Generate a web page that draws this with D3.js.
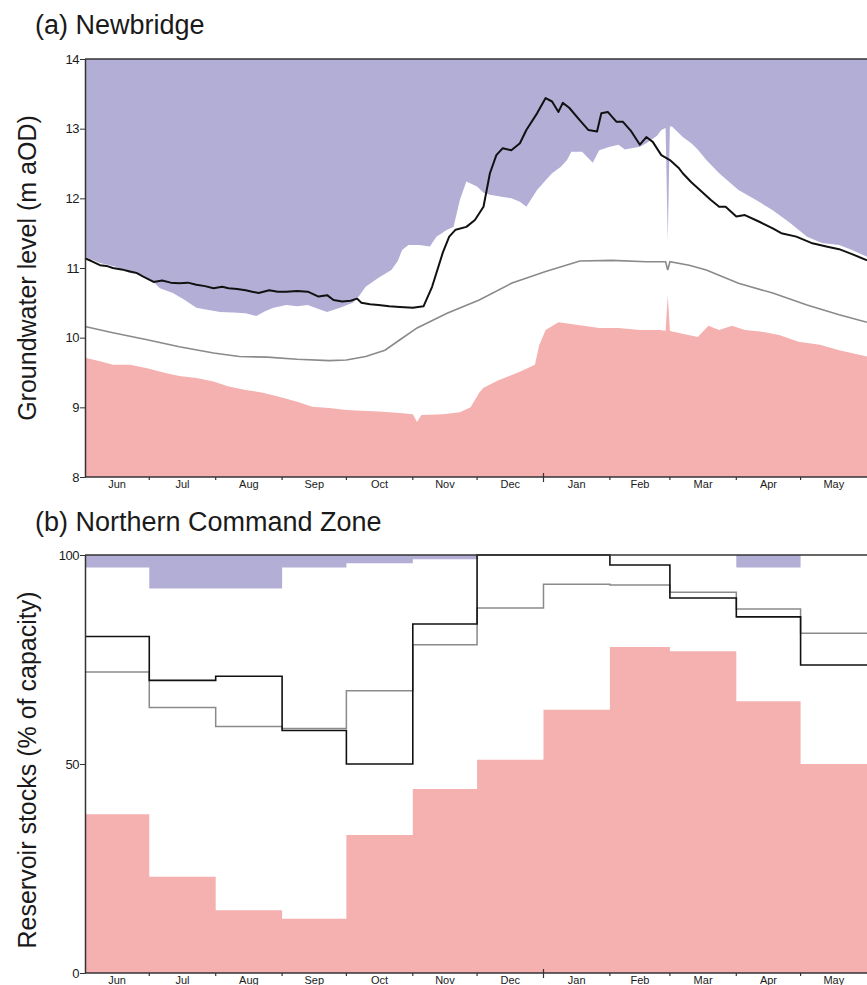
<!DOCTYPE html>
<html>
<head>
<meta charset="utf-8">
<script src="https://cdn.jsdelivr.net/npm/d3@7"></script>
<style>
  body { margin: 0; background: #fff; }
  svg { display: block; }
  text { font-family: "Liberation Sans", Arial, Helvetica, sans-serif; fill: #1a1a1a; }
</style>
</head>
<body>
<svg id="chart" width="867" height="985"></svg>
<script>
// Hydrological year shown on both panels
const seasonStart = "2010-06-01";
const seasonEnd = "2011-06-01";
const monthLabels = ["Jun", "Jul", "Aug", "Sep", "Oct", "Nov", "Dec", "Jan", "Feb", "Mar", "Apr", "May"];

// (a) Newbridge groundwater level, m aOD
const levelTicks = [8, 9, 10, 11, 12, 13, 14];

const historicMax = [
  ["2010-06-01", 11.16], ["2010-06-08", 11.07], ["2010-06-15", 11.02], ["2010-06-22", 10.93],
  ["2010-06-28", 10.90], ["2010-07-03", 10.80], ["2010-07-06", 10.71], ["2010-07-12", 10.64],
  ["2010-07-17", 10.55], ["2010-07-23", 10.43], ["2010-07-28", 10.40], ["2010-08-03", 10.37],
  ["2010-08-09", 10.36], ["2010-08-15", 10.35], ["2010-08-20", 10.31], ["2010-08-24", 10.38],
  ["2010-08-28", 10.43], ["2010-09-03", 10.47], ["2010-09-08", 10.45], ["2010-09-13", 10.47],
  ["2010-09-18", 10.41], ["2010-09-22", 10.37], ["2010-09-28", 10.43], ["2010-10-04", 10.50],
  ["2010-10-07", 10.60], ["2010-10-10", 10.73], ["2010-10-16", 10.86], ["2010-10-22", 10.97],
  ["2010-10-25", 11.10], ["2010-10-27", 11.26], ["2010-10-30", 11.33], ["2010-11-04", 11.33],
  ["2010-11-09", 11.31], ["2010-11-12", 11.45], ["2010-11-17", 11.55], ["2010-11-20", 11.59],
  ["2010-11-23", 11.98], ["2010-11-26", 12.24], ["2010-12-01", 12.17], ["2010-12-04", 12.08],
  ["2010-12-07", 12.05], ["2010-12-13", 12.02], ["2010-12-17", 12.00], ["2010-12-21", 11.95],
  ["2010-12-24", 11.88], ["2010-12-29", 12.12], ["2011-01-02", 12.26], ["2011-01-05", 12.36],
  ["2011-01-09", 12.45], ["2011-01-12", 12.55], ["2011-01-14", 12.67], ["2011-01-19", 12.67],
  ["2011-01-24", 12.51], ["2011-01-27", 12.69], ["2011-02-01", 12.74], ["2011-02-05", 12.77],
  ["2011-02-08", 12.70], ["2011-02-11", 12.72], ["2011-02-15", 12.74], ["2011-02-18", 12.79],
  ["2011-02-23", 12.90], ["2011-02-25", 12.98], ["2011-02-27", 13.01], ["2011-02-28", 11.40],
  ["2011-03-01", 13.03], ["2011-03-02", 13.03], ["2011-03-07", 12.88], ["2011-03-11", 12.79],
  ["2011-03-14", 12.70], ["2011-03-18", 12.55], ["2011-03-24", 12.36], ["2011-04-02", 12.12],
  ["2011-04-10", 11.98], ["2011-04-18", 11.83], ["2011-04-26", 11.65], ["2011-05-04", 11.45],
  ["2011-05-11", 11.36], ["2011-05-19", 11.33], ["2011-05-25", 11.26], ["2011-06-01", 11.16]
];

const historicMin = [
  ["2010-06-01", 9.71], ["2010-06-08", 9.66], ["2010-06-14", 9.61], ["2010-06-22", 9.61],
  ["2010-06-30", 9.56], ["2010-07-09", 9.49], ["2010-07-15", 9.45], ["2010-07-23", 9.42],
  ["2010-07-31", 9.37], ["2010-08-07", 9.30], ["2010-08-15", 9.25], ["2010-08-23", 9.21],
  ["2010-08-31", 9.15], ["2010-09-08", 9.08], ["2010-09-15", 9.01], ["2010-09-23", 8.99],
  ["2010-10-01", 8.96], ["2010-10-08", 8.95], ["2010-10-16", 8.94], ["2010-10-26", 8.92],
  ["2010-11-01", 8.90], ["2010-11-03", 8.79], ["2010-11-05", 8.89], ["2010-11-15", 8.90],
  ["2010-11-23", 8.93], ["2010-11-28", 9.00], ["2010-12-02", 9.21], ["2010-12-04", 9.28],
  ["2010-12-11", 9.39], ["2010-12-21", 9.51], ["2010-12-28", 9.61], ["2010-12-30", 9.89],
  ["2011-01-02", 10.11], ["2011-01-08", 10.22], ["2011-01-18", 10.18], ["2011-01-27", 10.14],
  ["2011-02-05", 10.14], ["2011-02-15", 10.11], ["2011-02-24", 10.11], ["2011-02-27", 10.10],
  ["2011-02-28", 10.61], ["2011-03-01", 10.10], ["2011-03-02", 10.09], ["2011-03-14", 10.01],
  ["2011-03-19", 10.17], ["2011-03-24", 10.11], ["2011-03-30", 10.17], ["2011-04-05", 10.11],
  ["2011-04-12", 10.09], ["2011-04-21", 10.04], ["2011-04-30", 9.94], ["2011-05-10", 9.90],
  ["2011-05-19", 9.82], ["2011-06-01", 9.73]
];

const longTermMean = [
  ["2010-06-01", 10.16], ["2010-06-14", 10.07], ["2010-06-30", 9.97], ["2010-07-15", 9.87],
  ["2010-07-31", 9.78], ["2010-08-12", 9.73], ["2010-08-25", 9.72], ["2010-09-08", 9.69],
  ["2010-09-23", 9.67], ["2010-10-01", 9.68], ["2010-10-10", 9.73], ["2010-10-19", 9.82],
  ["2010-10-26", 9.97], ["2010-11-03", 10.14], ["2010-11-17", 10.35], ["2010-12-02", 10.54],
  ["2010-12-17", 10.78], ["2011-01-02", 10.95], ["2011-01-18", 11.10], ["2011-02-02", 11.11],
  ["2011-02-18", 11.09], ["2011-02-27", 11.09], ["2011-02-28", 10.97], ["2011-03-01", 11.09],
  ["2011-03-10", 11.04], ["2011-03-18", 10.97], ["2011-04-02", 10.78], ["2011-04-18", 10.64],
  ["2011-05-04", 10.47], ["2011-05-19", 10.33], ["2011-06-01", 10.22]
];

const currentLevel = [
  ["2010-06-01", 11.14], ["2010-06-04", 11.10], ["2010-06-08", 11.04], ["2010-06-11", 11.03],
  ["2010-06-14", 11.00], ["2010-06-18", 10.98], ["2010-06-22", 10.95], ["2010-06-25", 10.93],
  ["2010-06-28", 10.88], ["2010-07-03", 10.80], ["2010-07-07", 10.82], ["2010-07-11", 10.79],
  ["2010-07-15", 10.78], ["2010-07-19", 10.79], ["2010-07-23", 10.76], ["2010-07-27", 10.74],
  ["2010-07-31", 10.71], ["2010-08-04", 10.73], ["2010-08-07", 10.71], ["2010-08-11", 10.70],
  ["2010-08-15", 10.68], ["2010-08-18", 10.66], ["2010-08-21", 10.64], ["2010-08-26", 10.68],
  ["2010-08-30", 10.66], ["2010-09-03", 10.66], ["2010-09-08", 10.67], ["2010-09-13", 10.66],
  ["2010-09-18", 10.59], ["2010-09-22", 10.61], ["2010-09-25", 10.54], ["2010-09-29", 10.52],
  ["2010-10-03", 10.53], ["2010-10-06", 10.56], ["2010-10-08", 10.50], ["2010-10-12", 10.48],
  ["2010-10-16", 10.47], ["2010-10-21", 10.45], ["2010-10-26", 10.44], ["2010-11-01", 10.43],
  ["2010-11-06", 10.45], ["2010-11-10", 10.73], ["2010-11-15", 11.22], ["2010-11-18", 11.45],
  ["2010-11-21", 11.55], ["2010-11-26", 11.59], ["2010-11-30", 11.69], ["2010-12-04", 11.88],
  ["2010-12-07", 12.36], ["2010-12-10", 12.62], ["2010-12-13", 12.72], ["2010-12-17", 12.69],
  ["2010-12-21", 12.79], ["2010-12-24", 12.98], ["2010-12-29", 13.22], ["2011-01-02", 13.44],
  ["2011-01-05", 13.39], ["2011-01-08", 13.24], ["2011-01-10", 13.37], ["2011-01-13", 13.30],
  ["2011-01-18", 13.12], ["2011-01-22", 12.98], ["2011-01-26", 12.96], ["2011-01-28", 13.22],
  ["2011-01-31", 13.24], ["2011-02-04", 13.10], ["2011-02-07", 13.10], ["2011-02-11", 12.96],
  ["2011-02-15", 12.77], ["2011-02-18", 12.88], ["2011-02-21", 12.81], ["2011-02-25", 12.62],
  ["2011-03-01", 12.55], ["2011-03-05", 12.44], ["2011-03-07", 12.36], ["2011-03-11", 12.23],
  ["2011-03-15", 12.12], ["2011-03-20", 11.98], ["2011-03-24", 11.88], ["2011-03-27", 11.88],
  ["2011-04-01", 11.74], ["2011-04-05", 11.76], ["2011-04-12", 11.66], ["2011-04-18", 11.57],
  ["2011-04-22", 11.50], ["2011-04-29", 11.45], ["2011-05-06", 11.36], ["2011-05-13", 11.31],
  ["2011-05-19", 11.27], ["2011-05-25", 11.20], ["2011-06-01", 11.11]
];

// (b) Northern Command Zone reservoir stocks, % of capacity, one value per month
const stockTicks = [0, 50, 100];
const stockMax = [97, 92, 92, 97, 98, 99, 100, 100, 100, 100, 97, 100];
const stockMin = [38, 23, 15, 13, 33, 44, 51, 63, 78, 77, 65, 50];
const stockMean = [72, 63.5, 59, 58.5, 67.5, 78.5, 87.3, 93, 92.8, 91.1, 87.1, 81.3];
const stockCurrent = [80.5, 70, 71, 58, 50, 83.5, 100, 100, 97.6, 89.7, 85.2, 73.7];

const colors = { above: "#b3aed6", below: "#f5b0b0", current: "#111111", mean: "#8a8a8a", axis: "#333333" };

const parse = d3.utcParse("%Y-%m-%d");
const svg = d3.select("#chart");
const left = 85, right = 867;

const x = d3.scaleUtc().domain([parse(seasonStart), parse(seasonEnd)]).range([left, right]);
const monthStarts = d3.utcMonths(parse(seasonStart), parse(seasonEnd));

function toPoints(rows) { return rows.map(([d, v]) => ({ date: parse(d), value: v })); }

function drawMonthAxis(g, yPos) {
  const axis = g.append("g").attr("transform", `translate(0,${yPos})`);
  axis.append("line").attr("x1", left).attr("x2", right).attr("y1", 0).attr("y2", 0)
    .attr("stroke", colors.axis).attr("stroke-width", 1.5);
  axis.selectAll("line.tick").data(monthStarts.slice(1)).join("line")
    .attr("class", "tick")
    .attr("x1", d => x(d)).attr("x2", d => x(d))
    .attr("y1", d => d.getUTCMonth() === 0 ? -4 : 0)
    .attr("y2", d => d.getUTCMonth() === 0 ? 5 : 3)
    .attr("stroke", colors.axis).attr("stroke-width", 1.2);
  axis.selectAll("text").data(monthStarts).join("text")
    .attr("x", d => (x(d) + x(d3.utcMonth.offset(d, 1))) / 2)
    .attr("y", 11)
    .attr("text-anchor", "middle")
    .attr("font-size", 11)
    .text((d, i) => monthLabels[i]);
}

function drawValueAxis(g, y, majors, minorStep) {
  const [lo, hi] = y.domain();
  const minors = d3.range(lo, hi + minorStep / 2, minorStep);
  const axis = g.append("g").attr("transform", `translate(${left},0)`);
  axis.call(d3.axisLeft(y).tickValues(minors).tickSize(2).tickSizeOuter(0).tickFormat(""));
  axis.call(d3.axisLeft(y).tickValues(majors).tickSize(5).tickSizeOuter(0).tickPadding(1)
    .tickFormat(d3.format("d")));
  axis.selectAll("path.domain").attr("stroke", colors.axis).attr("stroke-width", 1.5);
  axis.selectAll(".tick line").attr("stroke", colors.axis);
  axis.selectAll(".tick text").attr("font-size", 13).attr("fill", "#1a1a1a")
    .attr("font-family", "'Liberation Sans', Arial, sans-serif").attr("letter-spacing", -0.5);
}

// ---------- Panel (a): groundwater level ----------
const ya = d3.scaleLinear().domain([8, 14]).range([477, 59]);
const pa = svg.append("g");

pa.append("path").datum(toPoints(historicMax))
  .attr("fill", colors.above)
  .attr("d", d3.area().x(d => x(d.date)).y0(ya(14)).y1(d => ya(d.value)));

pa.append("path").datum(toPoints(historicMin))
  .attr("fill", colors.below)
  .attr("d", d3.area().x(d => x(d.date)).y0(ya(8)).y1(d => ya(d.value)));

const lineA = d3.line().x(d => x(d.date)).y(d => ya(d.value));
pa.append("path").datum(toPoints(longTermMean))
  .attr("fill", "none").attr("stroke", colors.mean).attr("stroke-width", 1.6).attr("d", lineA);
pa.append("path").datum(toPoints(currentLevel))
  .attr("fill", "none").attr("stroke", colors.current).attr("stroke-width", 2)
  .attr("stroke-linejoin", "round").attr("d", lineA);

pa.append("line").attr("x1", left).attr("x2", right).attr("y1", ya(14)).attr("y2", ya(14))
  .attr("stroke", colors.axis).attr("stroke-width", 1.5);
drawMonthAxis(pa, ya(8));
drawValueAxis(pa, ya, levelTicks, 0.1);

pa.append("text").attr("x", 35).attr("y", 34).attr("font-size", 27).text("(a) Newbridge");
pa.append("text")
  .attr("transform", `translate(36,${(ya(8) + ya(14)) / 2}) rotate(-90)`)
  .attr("text-anchor", "middle").attr("font-size", 25)
  .text("Groundwater level (m aOD)");

// ---------- Panel (b): reservoir stocks ----------
const yb = d3.scaleLinear().domain([0, 100]).range([973, 555]);
const pb = svg.append("g");
const monthly = monthStarts.map((d, i) => ({
  date: d, max: stockMax[i], min: stockMin[i], mean: stockMean[i], current: stockCurrent[i]
}));
// repeat the last month at the season end so the steps run to the right edge
const steps = monthly.concat([{ ...monthly[monthly.length - 1], date: parse(seasonEnd) }]);

pb.append("path").datum(steps)
  .attr("fill", colors.above)
  .attr("d", d3.area().curve(d3.curveStepAfter).x(d => x(d.date)).y0(yb(100)).y1(d => yb(d.max)));
pb.append("path").datum(steps)
  .attr("fill", colors.below)
  .attr("d", d3.area().curve(d3.curveStepAfter).x(d => x(d.date)).y0(yb(0)).y1(d => yb(d.min)));

const stepLine = key => d3.line().curve(d3.curveStepAfter).x(d => x(d.date)).y(d => yb(d[key]));
pb.append("path").datum(steps)
  .attr("fill", "none").attr("stroke", colors.mean).attr("stroke-width", 1.5).attr("d", stepLine("mean"));
pb.append("path").datum(steps)
  .attr("fill", "none").attr("stroke", colors.current).attr("stroke-width", 1.6).attr("d", stepLine("current"));

pb.append("line").attr("x1", left).attr("x2", right).attr("y1", yb(100)).attr("y2", yb(100))
  .attr("stroke", colors.axis).attr("stroke-width", 1.5);
drawMonthAxis(pb, yb(0));
drawValueAxis(pb, yb, stockTicks, 10);

pb.append("text").attr("x", 35).attr("y", 531).attr("font-size", 27).text("(b) Northern Command Zone");
pb.append("text")
  .attr("transform", `translate(36,${(yb(0) + yb(100)) / 2 + 6}) rotate(-90)`)
  .attr("text-anchor", "middle").attr("font-size", 25)
  .text("Reservoir stocks (% of capacity)");
</script>
</body>
</html>
